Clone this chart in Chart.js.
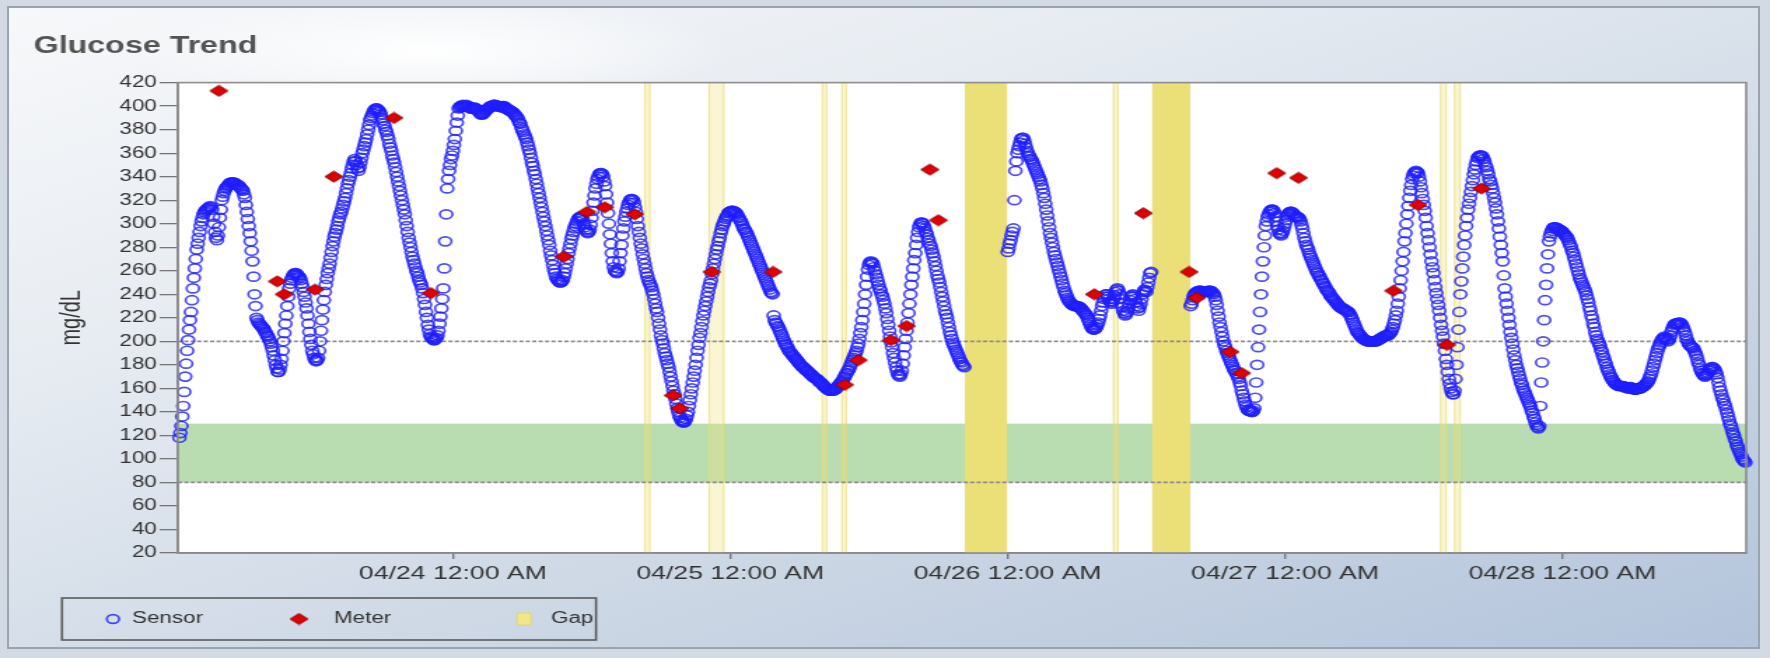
<!DOCTYPE html>
<html>
<head>
<meta charset="utf-8">
<title>Glucose Trend</title>
<script src="https://cdn.jsdelivr.net/npm/chart.js@4.4.1/dist/chart.umd.min.js"></script>
<style>
  html, body { margin: 0; padding: 0; width: 1770px; height: 658px; overflow: hidden; background: #d3dae4; }
  #panel {
    position: absolute; left: 7px; top: 6px; width: 1753px; height: 643px;
    border: 2px solid #9aa4b1; box-sizing: border-box;
    background:
      radial-gradient(ellipse 300px 55px at 420px 42px, rgba(255,255,255,0.97), rgba(255,255,255,0) 100%),
      linear-gradient(162deg, #f7f8fa 0%, #e7ecf2 30%, #cfd9e6 62%, #b3c4db 100%);
  }
  /* the chart is laid out on a narrower canvas and widened to the page width */
  #stage { position: absolute; left: 0; top: 0; width: 1264px; height: 658px; transform: scaleX(1.400316); transform-origin: 0 0; }
</style>
</head>
<body>
<div id="panel"></div>
<div id="stage"><canvas id="chart"></canvas></div>
<script>
// ---- data -------------------------------------------------------------
// Sensor readings (mg/dL), one every 5 minutes; one array per day starting at 12:00 AM,
// one row per hour.
const SAMPLE_HOURS = 1 / 12;
const sensor0423 = [
  null, null, null, null, 118, 122, 128, 136, 145, 157, 170, 181,
  192, 201, 210, 218, 225, 235, 245, 254, 262, 270, 278, 283,
  288, 293, 298, 302, 305, 308, 310, 311, 312, 313, 313, 314,
  315, 314, 312, 306, 300, 293, 288, 286, 290, 297, 305, 312,
  320, 323, 326, 328, 330, 331, 332, 333, 334, 335, 335, 335,
  335, 335, 334, 333, 333, 333, 332, 331, 330, 329, 328, 325,
  322, 316, 310, 304, 298, 292, 285, 277, 268, 255, 240, 230,
  220, 218, 216, 215, 214, 213, 212, 211, 210, 208, 207, 205,
  204, 202, 200, 198, 195, 192, 188, 184, 180, 177, 174, 174,
  176, 180, 185, 192, 200, 207, 215, 222, 230, 238, 245, 249,
  252, 254, 256, 257, 258, 258, 257, 256, 255, 254, 252, 249,
  246, 242, 238, 233, 228, 222, 215, 208, 202, 197, 192, 189,
  186, 184, 183, 184, 186, 192, 200, 209, 218, 227, 235, 242,
  248, 253, 258, 262, 266, 271, 276, 281, 285, 289, 292, 295,
  298, 302, 305, 308, 310, 313, 316, 319, 322, 326, 330, 334,
  337, 340, 343, 347, 350, 353, 355, 353, 350, 347, 345, 348,
  352, 356, 360, 363, 366, 369, 372, 376, 380, 384, 388, 390,
  392, 394, 396, 397, 398, 398, 397, 396, 395, 393, 390, 388,
  385, 383, 380, 378, 375, 372, 368, 365, 362, 358, 355, 352,
  348, 344, 340, 336, 332, 328, 324, 320, 316, 312, 308, 303,
  298, 293, 288, 284, 280, 276, 272, 269, 266, 263, 260, 258,
  255, 252, 250, 248, 245, 241, 236, 231, 225, 220, 214, 210,
  206, 204, 203, 202, 201, 201, 202, 203, 205, 209, 215, 221,
  228, 236, 245, 262, 285, 308, 330, 338, 345, 350, 355, 358
];
const sensor0424 = [
  362, 367, 372, 379, 386, 392, 398, 399, 400, 400, 401, 400,
  400, 400, 401, 400, 400, 399, 398, 398, 398, 398, 399, 398,
  398, 397, 396, 395, 394, 393, 393, 393, 394, 395, 396, 397,
  398, 398, 399, 400, 400, 400, 401, 401, 401, 400, 400, 400,
  400, 400, 399, 399, 400, 400, 399, 398, 398, 397, 397, 396,
  396, 395, 395, 394, 393, 392, 391, 390, 388, 386, 385, 382,
  380, 378, 376, 374, 372, 369, 366, 363, 360, 356, 352, 349,
  345, 342, 338, 334, 330, 326, 322, 318, 314, 310, 306, 302,
  298, 294, 290, 286, 282, 277, 273, 269, 265, 261, 258, 255,
  253, 252, 251, 250, 250, 251, 252, 255, 258, 262, 266, 270,
  275, 279, 283, 287, 290, 293, 296, 298, 300, 302, 304, 305,
  306, 306, 305, 303, 300, 297, 295, 293, 292, 293, 295, 299,
  305, 311, 318, 324, 330, 334, 338, 340, 342, 343, 343, 342,
  340, 336, 332, 325, 318, 309, 300, 291, 283, 275, 268, 263,
  260, 259, 258, 259, 262, 268, 275, 282, 290, 296, 302, 306,
  310, 313, 316, 318, 320, 321, 321, 320, 318, 314, 310, 304,
  298, 293, 288, 283, 279, 274, 270, 266, 262, 258, 255, 252,
  250, 248, 246, 243, 240, 236, 232, 228, 225, 220, 215, 210,
  205, 201, 198, 194, 190, 187, 184, 181, 178, 174, 170, 166,
  162, 158, 155, 151, 147, 143, 140, 137, 135, 133, 132, 131,
  131, 132, 134, 137, 140, 145, 150, 155, 160, 165, 170, 175,
  180, 186, 192, 197, 203, 207, 212, 217, 222, 226, 230, 234,
  238, 242, 246, 249, 252, 257, 262, 266, 270, 274, 278, 281,
  285, 288, 292, 295, 298, 300, 302, 304, 306, 307, 309, 310
];
const sensor0425 = [
  310, 311, 311, 311, 310, 310, 309, 308, 306, 305, 303, 302,
  300, 298, 296, 295, 293, 292, 290, 288, 286, 284, 282, 280,
  278, 276, 274, 272, 270, 268, 266, 264, 262, 260, 258, 256,
  254, 252, 250, 248, 246, 244, 242, 241, 240, 222, 218, 216,
  215, 213, 212, 210, 208, 206, 204, 202, 200, 198, 197, 195,
  194, 192, 191, 190, 189, 188, 187, 186, 185, 184, 183, 182,
  181, 180, 179, 178, 178, 177, 176, 175, 175, 174, 173, 172,
  172, 171, 170, 169, 169, 168, 168, 167, 166, 165, 165, 164,
  163, 162, 161, 161, 160, 159, 159, 158, 158, 158, 158, 158,
  159, 159, 160, 161, 162, 163, 164, 165, 166, 167, 169, 170,
  172, 173, 175, 176, 178, 180, 182, 184, 186, 188, 190, 192,
  195, 198, 202, 207, 212, 218, 225, 232, 240, 248, 255, 261,
  265, 267, 268, 267, 266, 263, 260, 257, 254, 251, 248, 245,
  243, 240, 238, 235, 232, 228, 224, 219, 214, 209, 204, 199,
  195, 190, 186, 182, 178, 175, 172, 171, 170, 172, 175, 181,
  188, 195, 202, 209, 216, 224, 232, 240, 248, 255, 262, 269,
  275, 282, 288, 293, 297, 299, 301, 301, 300, 298, 296, 293,
  291, 288, 286, 283, 281, 278, 275, 272, 268, 264, 260, 256,
  253, 250, 246, 242, 238, 234, 230, 226, 223, 220, 216, 212,
  208, 205, 202, 199, 197, 195, 193, 191, 189, 187, 185, 183,
  182, 180, 179, 178, null, null, null, null, null, null, null, null,
  null, null, null, null, null, null, null, null, null, null, null, null,
  null, null, null, null, null, null, null, null, null, null, null, null,
  null, null, null, null, null, null, null, null, null, null, null, null
];
const sensor0426 = [
  276, 279, 283, 286, 290, 293, 296, 320, 345, 353, 360, 363,
  366, 369, 372, 373, 373, 371, 368, 365, 362, 360, 358, 357,
  355, 354, 352, 350, 348, 346, 344, 342, 340, 338, 336, 333,
  330, 326, 322, 317, 312, 307, 302, 297, 292, 288, 284, 280,
  276, 273, 270, 267, 264, 261, 258, 255, 252, 249, 246, 243,
  241, 239, 237, 235, 234, 233, 232, 231, 231, 230, 230, 230,
  230, 230, 229, 229, 228, 227, 226, 225, 224, 223, 222, 220,
  218, 216, 214, 212, 211, 210, 210, 211, 212, 214, 216, 219,
  222, 226, 230, 233, 236, 238, 240, 240, 238, 236, 234, 233,
  232, 234, 236, 239, 242, 244, 245, 243, 240, 236, 232, 229,
  226, 224, 222, 223, 225, 228, 232, 235, 238, 239, 240, 238,
  236, 233, 230, 228, 226, 229, 232, 236, 240, 242, 244, 243,
  242, 246, 250, 254, 258, 259, null, null, null, null, null, null,
  null, null, null, null, null, null, null, null, null, null, null, null,
  null, null, null, null, null, null, null, null, null, null, null, null,
  null, null, null, null, null, null, null, null, null, null, 230, 232,
  235, 238, 240, 241, 242, 242, 243, 243, 243, 243, 242, 242,
  242, 242, 242, 242, 243, 243, 243, 243, 242, 241, 240, 238,
  235, 231, 226, 221, 216, 212, 208, 204, 200, 197, 195, 192,
  190, 188, 186, 184, 182, 180, 178, 176, 175, 173, 172, 170,
  168, 165, 162, 158, 155, 152, 149, 146, 144, 142, 141, 141,
  141, 140, 140, 141, 143, 152, 165, 180, 195, 210, 225, 240,
  255, 268, 280, 290, 298, 302, 306, 308, 310, 311, 312, 312,
  311, 309, 306, 302, 298, 295, 292, 291, 290, 292, 294, 297
];
const sensor0427 = [
  300, 303, 306, 308, 309, 310, 310, 310, 309, 308, 307, 306,
  306, 306, 305, 304, 302, 299, 296, 292, 288, 285, 282, 280,
  278, 275, 273, 271, 269, 267, 265, 263, 261, 259, 258, 256,
  255, 253, 252, 250, 249, 247, 246, 244, 243, 242, 241, 239,
  238, 237, 236, 235, 234, 233, 232, 231, 230, 229, 229, 228,
  228, 227, 227, 226, 226, 225, 225, 223, 222, 220, 218, 216,
  214, 212, 210, 208, 207, 206, 205, 204, 203, 202, 202, 201,
  201, 200, 200, 200, 200, 200, 200, 200, 200, 200, 200, 200,
  201, 201, 202, 202, 203, 203, 204, 204, 205, 205, 205, 205,
  206, 207, 208, 210, 212, 215, 218, 222, 226, 232, 238, 245,
  252, 260, 268, 276, 285, 292, 300, 308, 315, 322, 328, 333,
  338, 341, 343, 344, 345, 344, 343, 340, 336, 331, 326, 321,
  316, 311, 305, 298, 292, 286, 280, 274, 268, 263, 258, 252,
  246, 241, 236, 231, 226, 220, 214, 209, 204, 198, 192, 185,
  180, 174, 168, 164, 160, 157, 155, 155, 158, 168, 180, 195,
  210, 225, 240, 251, 262, 272, 282, 290, 298, 305, 312, 317,
  322, 327, 332, 337, 342, 346, 350, 353, 356, 357, 358, 358,
  358, 357, 355, 353, 350, 348, 345, 342, 338, 336, 333, 330,
  326, 322, 318, 313, 308, 302, 296, 289, 282, 275, 268, 256,
  245, 238, 232, 226, 220, 214, 208, 203, 198, 193, 188, 184,
  180, 177, 174, 171, 168, 165, 163, 160, 158, 156, 154, 152,
  150, 148, 146, 144, 141, 139, 136, 134, 131, 129, 127, 126,
  128, 145, 165, 182, 200, 218, 235, 248, 262, 274, 285, 289,
  292, 294, 296, 297, 297, 297, 296, 296, 295, 295, 294, 294
];
const sensor0428 = [
  293, 292, 291, 290, 289, 288, 286, 284, 282, 280, 277, 275,
  272, 269, 266, 263, 260, 257, 254, 252, 250, 248, 246, 244,
  242, 239, 236, 233, 229, 226, 222, 219, 215, 212, 208, 205,
  202, 200, 198, 196, 193, 191, 188, 186, 183, 181, 178, 176,
  174, 172, 170, 169, 167, 166, 165, 164, 163, 163, 162, 162,
  162, 162, 162, 162, 161, 161, 161, 161, 160, 160, 161, 161,
  160, 160, 159, 159, 159, 159, 160, 160, 160, 160, 161, 161,
  162, 162, 163, 164, 165, 166, 168, 170, 172, 175, 178, 181,
  184, 187, 190, 193, 195, 197, 199, 201, 202, 203, 204, 203,
  202, 201, 200, 202, 205, 208, 210, 212, 214, 215, 215, 215,
  215, 216, 216, 215, 214, 212, 210, 208, 205, 202, 200, 198,
  197, 196, 195, 195, 194, 192, 190, 188, 185, 182, 180, 177,
  175, 173, 172, 171, 170, 171, 172, 173, 175, 176, 177, 178,
  178, 177, 176, 174, 172, 169, 165, 161, 158, 155, 152, 150,
  147, 145, 142, 139, 136, 133, 130, 128, 125, 122, 120, 117,
  115, 112, 110, 108, 106, 104, 102, 100, 99, 98, 97, null
];
const sensorDays = [sensor0423, sensor0424, sensor0425, sensor0426, sensor0427, sensor0428];

// Fingerstick meter readings: hours since 04/23 12:00 AM and value (mg/dL).
const meterHours = [3.75, 8.8, 9.4, 12.06, 13.7, 18.9, 22.1, 33.6, 35.6, 37.14, 39.74, 43.06, 43.63,
  46.4, 51.7, 57.9, 59.07, 61.9, 63.25, 65.27, 66.0, 79.5, 83.74, 87.7, 88.36, 91.24, 92.25,
  95.28, 97.16, 105.38, 107.5, 110.0, 113.0];
const meterValues = [413, 251, 240, 244, 340, 390, 241, 272, 310, 314, 308, 154, 143,
  259, 259, 163, 184, 201, 213, 346, 303, 240, 309, 259, 237, 191, 173,
  343, 339, 243, 316, 197, 330];

// Sensor gaps: start / end, hours since 04/23 12:00 AM.
const gapStart = [40.55, 46.1, 55.9, 57.6, 68.3, 81.1, 84.5, 109.4, 110.6];
const gapEnd   = [41.1, 47.5, 56.4, 58.1, 71.95, 81.6, 87.8, 110.0, 111.2];

const dayTickLabels = ['04/24 12:00 AM', '04/25 12:00 AM', '04/26 12:00 AM', '04/27 12:00 AM', '04/28 12:00 AM'];
const targetRange = [80, 130];
const limitLines = [80, 200];

// ---- chart ------------------------------------------------------------
const FONT = "'Liberation Sans', Arial, sans-serif";
const SX = 1770 / 1264;          // horizontal widening of the stage
const SENSOR_COLOR = 'rgba(30,30,255,0.8)';
const METER_FILL = '#e10000';
const METER_EDGE = '#7a0000';
const GAP_COLOR = '#ebdf78';

// red diamond marker for meter readings
function diamondMarker(w, h) {
  const c = document.createElement('canvas');
  c.width = w + 2;
  c.height = h + 2;
  const g = c.getContext('2d');
  const cx = c.width / 2, cy = c.height / 2;
  g.beginPath();
  g.moveTo(cx, cy - h / 2);
  g.lineTo(cx + w / 2, cy);
  g.lineTo(cx, cy + h / 2);
  g.lineTo(cx - w / 2, cy);
  g.closePath();
  g.fillStyle = METER_FILL;
  g.fill();
  g.strokeStyle = METER_EDGE;
  g.lineWidth = 0.9;
  g.stroke();
  return c;
}
const meterMarker = diamondMarker(13, 11);

const sensorPoints = [];
sensorDays.forEach((vals, d) => {
  vals.forEach((v, i) => {
    if (v !== null) sensorPoints.push({ x: d * 24 + i * SAMPLE_HOURS, y: v });
  });
});
const meterPoints = meterHours.map((h, i) => ({ x: h, y: meterValues[i] }));

const isDayTick = v => Math.abs(v / 24 - Math.round(v / 24)) < 1e-6 && v > 0;

const plotDecor = {
  id: 'plotDecor',
  beforeDraw(chart) {
    const { ctx, chartArea: a } = chart;
    ctx.save();
    ctx.fillStyle = '#ffffff';
    ctx.fillRect(a.left, a.top, a.width, a.height);
    ctx.restore();
  },
  beforeDatasetsDraw(chart) {
    const { ctx, chartArea: a, scales: { x, y } } = chart;
    ctx.save();
    ctx.beginPath();
    ctx.rect(a.left, a.top, a.width, a.height);
    ctx.clip();
    // target range band
    const yHi = y.getPixelForValue(targetRange[1]);
    const yLo = y.getPixelForValue(targetRange[0]);
    ctx.fillStyle = '#b9dcb1';
    ctx.fillRect(a.left, yHi, a.width, yLo - yHi);
    // sensor gaps
    gapStart.forEach((s, i) => {
      const x0 = x.getPixelForValue(s);
      const x1 = x.getPixelForValue(gapEnd[i]);
      if (gapEnd[i] - s >= 2) {
        ctx.fillStyle = GAP_COLOR;
        ctx.fillRect(x0, a.top, x1 - x0, a.height);
      } else {
        ctx.fillStyle = 'rgba(240,228,130,0.35)';
        ctx.fillRect(x0, a.top, x1 - x0, a.height);
        ctx.fillStyle = 'rgba(232,218,110,0.55)';
        ctx.fillRect(x0, a.top, 1.2, a.height);
        ctx.fillRect(x1 - 1.2, a.top, 1.2, a.height);
      }
    });
    // limit lines
    ctx.strokeStyle = '#8a8a8a';
    ctx.lineWidth = 1.8;
    ctx.setLineDash([3, 1.6]);
    limitLines.forEach(v => {
      const py = y.getPixelForValue(v);
      ctx.beginPath();
      ctx.moveTo(a.left, py);
      ctx.lineTo(a.right, py);
      ctx.stroke();
    });
    ctx.restore();
  },
  afterDraw(chart) {
    const { ctx, chartArea: a } = chart;
    ctx.save();
    // plot frame
    ctx.strokeStyle = '#8d8d8d';
    ctx.lineWidth = 1.6;
    ctx.strokeRect(a.left, a.top, a.width, a.height);

    // legend box
    const bx = 62 / SX, bw = (596 - 62) / SX, by = 598, bh = 42, cy = by + bh / 2;
    ctx.strokeStyle = '#5a5a5a';
    ctx.lineWidth = 1.6;
    ctx.strokeRect(bx, by, bw, bh);
    ctx.font = '16px ' + FONT;
    ctx.fillStyle = '#333';
    ctx.textBaseline = 'middle';
    ctx.textAlign = 'left';

    // Sensor
    ctx.beginPath();
    ctx.arc(113 / SX, cy, 4.4, 0, Math.PI * 2);
    ctx.strokeStyle = SENSOR_COLOR;
    ctx.lineWidth = 1.7;
    ctx.stroke();
    ctx.fillText('Sensor', 132 / SX, cy);

    // Meter
    ctx.drawImage(meterMarker, 299 / SX - meterMarker.width / 2, cy - meterMarker.height / 2);
    ctx.fillText('Meter', 334 / SX, cy);

    // Gap
    ctx.fillStyle = '#f0e68c';
    ctx.fillRect(517 / SX, cy - 6, 10, 12);
    ctx.strokeStyle = '#e2d672';
    ctx.lineWidth = 1;
    ctx.strokeRect(517 / SX, cy - 6, 10, 12);
    ctx.fillStyle = '#333';
    ctx.fillText('Gap', 551 / SX, cy);
    ctx.restore();
  }
};

new Chart(document.getElementById('chart'), {
  type: 'scatter',
  data: {
    datasets: [
      {
        label: 'Sensor',
        data: sensorPoints,
        pointStyle: 'circle',
        pointRadius: 4.5,
        pointBorderWidth: 1.7,
        borderColor: SENSOR_COLOR,
        backgroundColor: 'rgba(0,0,0,0)',
        showLine: false,
        clip: 6,
        order: 2
      },
      {
        label: 'Meter',
        data: meterPoints,
        pointStyle: meterMarker,
        pointRadius: 6,
        showLine: false,
        clip: 8,
        order: 1
      }
    ]
  },
  options: {
    responsive: true,
    maintainAspectRatio: false,
    animation: false,
    events: [],
    layout: { padding: { left: 24, right: 17, top: 0, bottom: 0 } },
    plugins: {
      legend: { display: false },
      tooltip: { enabled: false },
      title: {
        display: true,
        text: 'Glucose Trend',
        align: 'start',
        color: '#545454',
        font: { family: FONT, size: 23, weight: 'bold' },
        padding: { top: 33, bottom: 22 }
      }
    },
    scales: {
      x: {
        type: 'linear',
        min: 0.2,
        max: 135.9,
        afterFit: s => { s.height = 105; },
        afterBuildTicks: s => { s.ticks = s.ticks.filter(t => isDayTick(t.value)); },
        border: { display: true, color: '#777', width: 1.6 },
        grid: { display: true, drawOnChartArea: false, drawTicks: true, tickLength: 6, color: '#777', lineWidth: 1.4 },
        ticks: {
          stepSize: 24,
          autoSkip: false,
          maxRotation: 0,
          padding: 3,
          color: '#333',
          font: { family: FONT, size: 19 },
          callback: v => isDayTick(v) ? dayTickLabels[Math.round(v / 24) - 1] : null
        }
      },
      y: {
        min: 20,
        max: 420,
        afterFit: s => { s.width = 103; },
        border: { display: true, color: '#777', width: 1.6 },
        grid: { display: true, drawOnChartArea: false, drawTicks: true, tickLength: 13, color: '#777', lineWidth: 1.3 },
        ticks: { stepSize: 20, padding: 2, color: '#333', font: { family: FONT, size: 16 } },
        title: {
          display: true,
          text: 'mg/dL',
          color: '#333',
          font: { family: FONT, size: 20 },
          padding: { top: 15, bottom: 0 }
        }
      }
    }
  },
  plugins: [plotDecor]
});
</script>
</body>
</html>
